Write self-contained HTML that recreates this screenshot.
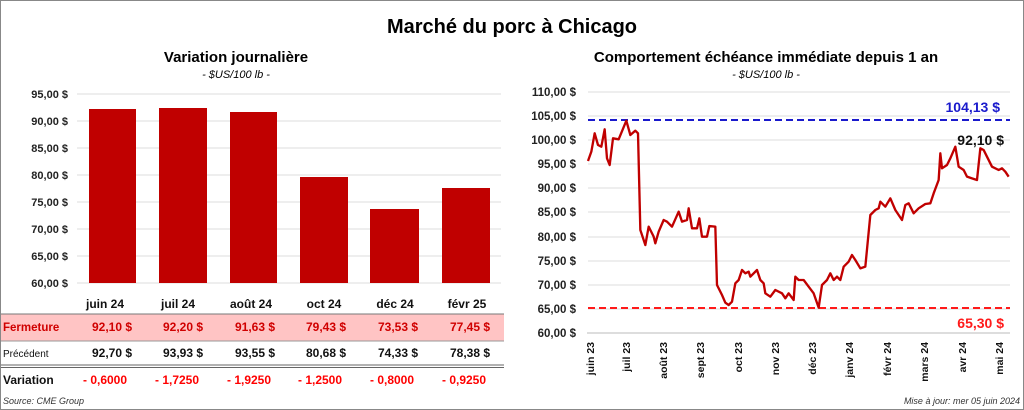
<!DOCTYPE html>
<html><head><meta charset="utf-8"><style>
body{margin:0;background:#fff}
svg{display:block;font-family:"Liberation Sans",sans-serif}
</style></head><body>
<svg width="1024" height="410" viewBox="0 0 1024 410">
<rect x="0.5" y="0.5" width="1023" height="409" fill="#fff" stroke="#888"/>
<text x="512" y="33" text-anchor="middle" font-size="20" font-weight="bold">Marché du porc à Chicago</text>
<text x="236" y="62" text-anchor="middle" font-size="15" font-weight="bold">Variation  journalière</text>
<text x="236" y="78" text-anchor="middle" font-size="11" font-style="italic">- $US/100 lb -</text>
<text x="766" y="62" text-anchor="middle" font-size="15" font-weight="bold">Comportement  échéance immédiate depuis 1 an</text>
<text x="766" y="78" text-anchor="middle" font-size="11" font-style="italic">- $US/100 lb -</text>
<g stroke="#ddd" stroke-width="1">
<line x1="77" x2="501" y1="94" y2="94"/><line x1="77" x2="501" y1="121" y2="121"/><line x1="77" x2="501" y1="148" y2="148"/><line x1="77" x2="501" y1="175" y2="175"/><line x1="77" x2="501" y1="202" y2="202"/><line x1="77" x2="501" y1="229" y2="229"/><line x1="77" x2="501" y1="256" y2="256"/><line x1="77" x2="501" y1="283" y2="283"/>
</g>
<g font-size="11" font-weight="bold" text-anchor="end" fill="#222">
<text x="68" y="98">95,00 $</text><text x="68" y="125">90,00 $</text><text x="68" y="152">85,00 $</text><text x="68" y="179">80,00 $</text><text x="68" y="206">75,00 $</text><text x="68" y="233">70,00 $</text><text x="68" y="260">65,00 $</text><text x="68" y="287">60,00 $</text>
</g>
<g fill="#c00000">
<rect x="89" y="109" width="47" height="174"/><rect x="159" y="108" width="48" height="175"/><rect x="230" y="112" width="47" height="171"/><rect x="300" y="177" width="48" height="106"/><rect x="370" y="209" width="49" height="74"/><rect x="442" y="188" width="48" height="95"/>
</g>
<g font-size="12" font-weight="bold" text-anchor="middle" fill="#111">
<text x="105" y="308">juin 24</text><text x="178" y="308">juil 24</text><text x="251" y="308">août 24</text><text x="324" y="308">oct 24</text><text x="395" y="308">déc 24</text><text x="467" y="308">févr 25</text>
</g>
<rect x="1" y="314" width="503" height="27" fill="#ffc4c4"/>
<line x1="1" x2="504" y1="314" y2="314" stroke="#777"/>
<line x1="1" x2="504" y1="341" y2="341" stroke="#999"/>
<line x1="1" x2="504" y1="365" y2="365" stroke="#666"/>
<line x1="1" x2="504" y1="367.5" y2="367.5" stroke="#666"/>
<g font-size="12" font-weight="bold" fill="#d00000">
<text x="3" y="331" font-size="11.5">Fermeture</text>
<text x="92" y="331">92,10  $</text><text x="163" y="331">92,20  $</text><text x="235" y="331">91,63  $</text><text x="306" y="331">79,43  $</text><text x="378" y="331">73,53  $</text><text x="450" y="331">77,45  $</text>
</g>
<g font-size="12" font-weight="bold" fill="#111">
<text x="3" y="357" font-size="10" font-weight="normal">Précédent</text>
<text x="92" y="357">92,70  $</text><text x="163" y="357">93,93  $</text><text x="235" y="357">93,55  $</text><text x="306" y="357">80,68  $</text><text x="378" y="357">74,33  $</text><text x="450" y="357">78,38  $</text>
<text x="3" y="384">Variation</text>
</g>
<g font-size="12" font-weight="bold" fill="#ff0000">
<text x="83" y="384">- 0,6000</text><text x="155" y="384">- 1,7250</text><text x="227" y="384">- 1,9250</text><text x="298" y="384">- 1,2500</text><text x="370" y="384">- 0,8000</text><text x="442" y="384">- 0,9250</text>
</g>
<text x="3" y="404" font-size="9" font-style="italic" fill="#333">Source: CME Group</text>
<text x="1020" y="404" font-size="9" font-style="italic" fill="#333" text-anchor="end">Mise à jour: mer 05 juin 2024</text>
<g stroke="#ddd">
<line x1="588" x2="1010" y1="92" y2="92"/><line x1="588" x2="1010" y1="116" y2="116"/><line x1="588" x2="1010" y1="140" y2="140"/><line x1="588" x2="1010" y1="164" y2="164"/><line x1="588" x2="1010" y1="188" y2="188"/><line x1="588" x2="1010" y1="212" y2="212"/><line x1="588" x2="1010" y1="237" y2="237"/><line x1="588" x2="1010" y1="261" y2="261"/><line x1="588" x2="1010" y1="285" y2="285"/><line x1="588" x2="1010" y1="309" y2="309"/>
</g>
<line x1="587" x2="1010" y1="333" y2="333" stroke="#bbb"/>
<g font-size="11.5" font-weight="bold" text-anchor="end" fill="#222">
<text x="576" y="96">110,00 $</text><text x="576" y="120">105,00 $</text><text x="576" y="144">100,00 $</text><text x="576" y="168">95,00 $</text><text x="576" y="192">90,00 $</text><text x="576" y="216">85,00 $</text><text x="576" y="241">80,00 $</text><text x="576" y="265">75,00 $</text><text x="576" y="289">70,00 $</text><text x="576" y="313">65,00 $</text><text x="576" y="337">60,00 $</text>
</g>
<g font-size="10.5" font-weight="bold" text-anchor="end" fill="#111">
<text transform="translate(594,342) rotate(-90)">juin 23</text>
<text transform="translate(630,342) rotate(-90)">juil 23</text>
<text transform="translate(667,342) rotate(-90)">août 23</text>
<text transform="translate(704,342) rotate(-90)">sept 23</text>
<text transform="translate(742,342) rotate(-90)">oct 23</text>
<text transform="translate(779,342) rotate(-90)">nov 23</text>
<text transform="translate(816,342) rotate(-90)">déc 23</text>
<text transform="translate(853,342) rotate(-90)">janv 24</text>
<text transform="translate(891,342) rotate(-90)">févr 24</text>
<text transform="translate(928,342) rotate(-90)">mars 24</text>
<text transform="translate(966,342) rotate(-90)">avr 24</text>
<text transform="translate(1003,342) rotate(-90)">mai 24</text>
</g>
<line x1="588" x2="1010" y1="120" y2="120" stroke="#1a1acc" stroke-width="2" stroke-dasharray="7,4"/>
<line x1="588" x2="1010" y1="308" y2="308" stroke="#ff1a1a" stroke-width="2" stroke-dasharray="7,4"/>
<text x="1000" y="112" font-size="14" font-weight="bold" fill="#1a1acc" text-anchor="end">104,13 $</text>
<text x="1004" y="328" font-size="14" font-weight="bold" fill="#ff1a1a" text-anchor="end">65,30 $</text>
<text x="1004" y="145" font-size="14" font-weight="bold" fill="#111" text-anchor="end">92,10 $</text>
<g transform="translate(512,80) scale(0.33333)">
<polyline fill="none" stroke="#c00000" stroke-width="7" stroke-linejoin="round" points="228,243 238,215 248,160 258,195 268,200 278,148 285,235 293,255 303,175 320,178 343,122 355,165 370,152 378,160 385,450 400,495 410,440 425,470 430,490 440,455 455,420 465,425 480,440 500,395 510,425 525,420 530,385 540,445 555,445 562,415 570,470 585,470 592,438 610,440 615,615 630,645 640,668 650,675 660,665 670,610 680,600 690,570 700,580 710,575 715,590 735,570 745,600 755,610 760,640 775,650 790,630 810,640 820,655 830,640 845,660 850,590 860,600 875,600 890,620 905,640 920,683 930,615 945,600 955,580 965,600 975,590 985,600 995,560 1010,545 1020,525 1030,540 1045,565 1060,560 1075,405 1090,390 1100,385 1105,365 1120,380 1135,355 1150,390 1170,420 1180,375 1190,370 1205,400 1220,385 1240,372 1255,370 1265,340 1280,300 1285,220 1290,265 1305,255 1315,235 1330,200 1340,260 1355,270 1365,290 1380,295 1395,300 1405,205 1415,210 1425,230 1440,260 1460,270 1470,265 1480,275 1490,290"/>
</g>
</svg>
</body></html>
